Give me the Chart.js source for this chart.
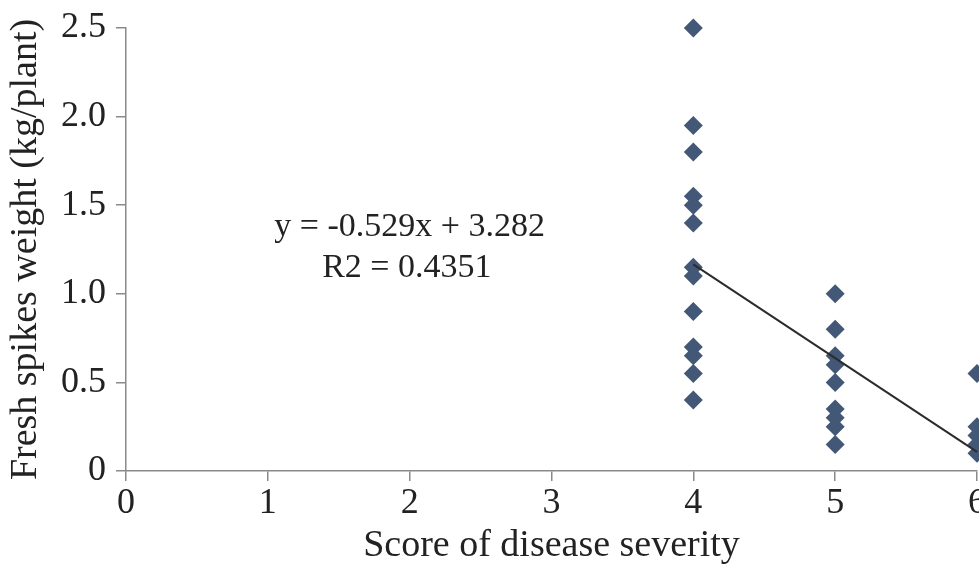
<!DOCTYPE html>
<html>
<head>
<meta charset="utf-8">
<script src="https://cdn.jsdelivr.net/npm/chart.js@4.4.1/dist/chart.umd.min.js"></script>
<style>
  html, body { margin: 0; padding: 0; background: #fff; }
  #wrap { width: 979px; height: 565px; }
</style>
</head>
<body>
<div id="wrap"><canvas id="scoreChart" width="979" height="565"></canvas></div>
<script>
// values
const severity4 = [2.5, 1.95, 1.8, 1.55, 1.5, 1.4, 1.15, 1.1, 0.9, 0.7, 0.65, 0.55, 0.4];
const severity5 = [1.0, 0.8, 0.65, 0.6, 0.5, 0.35, 0.3, 0.25, 0.15];
const severity6 = [0.55, 0.25, 0.2, 0.15, 0.1];
const trendX = [4, 6];
const trendY = [1.166, 0.108];
const equationLines = ['y = -0.529x + 3.282', 'R2 = 0.4351'];

const points = [];
severity4.forEach(v => points.push({ x: 4, y: v }));
severity5.forEach(v => points.push({ x: 5, y: v }));
severity6.forEach(v => points.push({ x: 6, y: v }));

const trend = trendX.map((x, i) => ({ x: x, y: trendY[i] }));

const serif = "'Liberation Serif', 'Times New Roman', serif";
const axisGray = '#8a8a8a';
const textColor = '#222';

// equation text next to the points
const equationLabel = {
    id: 'equationLabel',
    afterDraw(chart) {
        const ctx = chart.ctx;
        const xs = chart.scales.x;
        const ys = chart.scales.y;
        ctx.save();
        ctx.font = '34px ' + serif;
        ctx.fillStyle = textColor;
        ctx.textAlign = 'center';
        ctx.textBaseline = 'alphabetic';
        ctx.fillText(equationLines[0], xs.getPixelForValue(2.0), ys.getPixelForValue(1.326));
        ctx.fillText(equationLines[1], xs.getPixelForValue(1.98), ys.getPixelForValue(1.095));
        ctx.restore();
    }
};

const ctx = document.getElementById('scoreChart').getContext('2d');
new Chart(ctx, {
    type: 'scatter',
    data: {
        datasets: [{
            label: 'Fresh spikes weight',
            data: points,
            pointStyle: 'rectRot',
            pointRadius: 9.5,
            pointHoverRadius: 9.5,
            backgroundColor: '#435776',
            borderColor: '#435776',
            borderWidth: 0,
            clip: false,
            order: 2
        }, {
            type: 'line',
            label: 'Trend',
            data: trend,
            borderColor: '#2b2b2b',
            borderWidth: 2,
            pointRadius: 0,
            fill: false,
            clip: false,
            order: 1
        }]
    },
    options: {
        responsive: false,
        animation: false,
        layout: { autoPadding: false, padding: { top: 28, right: 2, left: 0, bottom: 0 } },
        plugins: {
            legend: { display: false },
            tooltip: { enabled: false }
        },
        scales: {
            x: {
                type: 'linear',
                min: 0,
                max: 6,
                // last label runs off the edge like in the figure
                afterFit: s => { s.height = 94; s.paddingRight = 0; s.paddingLeft = 0; },
                border: { display: true, color: axisGray, width: 1.5 },
                grid: { drawOnChartArea: false, drawTicks: true, tickLength: 10, color: axisGray, lineWidth: 1.5 },
                ticks: {
                    stepSize: 1,
                    color: textColor,
                    padding: 1,
                    font: { family: serif, size: 36 }
                },
                title: {
                    display: true,
                    text: 'Score of disease severity',
                    color: textColor,
                    padding: { top: 0, bottom: 0 },
                    font: { family: serif, size: 38, lineHeight: 1.0 }
                }
            },
            y: {
                min: 0,
                max: 2.5,
                afterFit: s => { s.width = 126; },
                border: { display: true, color: axisGray, width: 1.5 },
                grid: { drawOnChartArea: false, drawTicks: true, tickLength: 10, color: axisGray, lineWidth: 1.5 },
                ticks: {
                    stepSize: 0.5,
                    color: textColor,
                    padding: 10,
                    font: { family: serif, size: 36, lineHeight: 1.0 },
                    callback: v => v === 0 ? '0' : v.toFixed(1)
                },
                title: {
                    display: true,
                    text: 'Fresh spikes weight (kg/plant)',
                    color: textColor,
                    padding: { top: 7, bottom: 0 },
                    font: { family: serif, size: 38, lineHeight: 1.0 }
                }
            }
        }
    },
    plugins: [equationLabel]
});
</script>
</body>
</html>
